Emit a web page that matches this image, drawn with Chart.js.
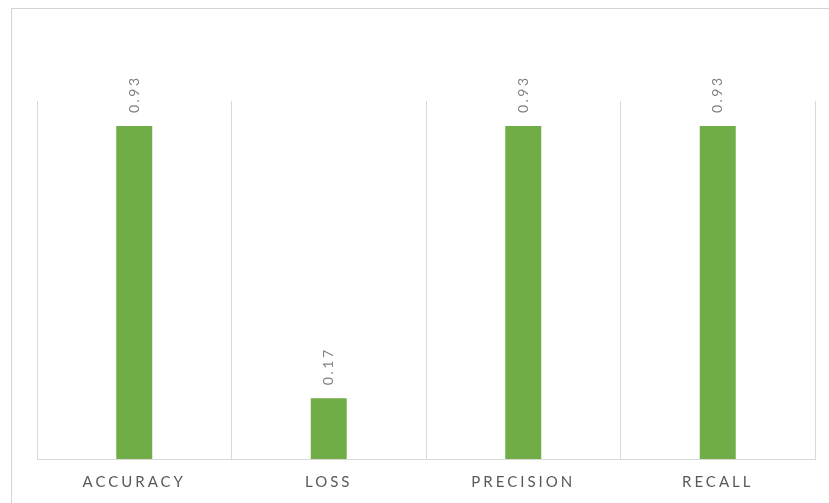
<!DOCTYPE html>
<html>
<head>
<meta charset="utf-8">
<script src="https://cdn.jsdelivr.net/npm/chart.js@4"></script>
<style>
  html, body { margin: 0; padding: 0; background: #fff; }
  #wrap { position: relative; width: 829px; height: 503px; overflow: hidden; }
  #frame { position: absolute; left: 11px; top: 8px; width: 840px; height: 520px;
           border-left: 1px solid #d4d4d4; border-top: 1px solid #d4d4d4; box-sizing: border-box; }
  canvas { position: absolute; left: 0; top: 0; }
</style>
</head>
<body>
<div id="wrap">
  <div id="frame"></div>
  <canvas id="c" width="829" height="503"></canvas>
</div>
<script>
const categories = ["ACCURACY", "LOSS", "PRECISION", "RECALL"];
const metricValues = [0.93, 0.17, 0.93, 0.93];
const valueLabels = ["0.93", "0.17", "0.93", "0.93"];

const spacingPlugin = {
  id: 'spacing',
  beforeDraw(chart) { chart.ctx.letterSpacing = '3px'; },
  afterDraw(chart) { chart.ctx.letterSpacing = '0px'; }
};

const valueLabelPlugin = {
  id: 'valueLabels',
  afterDatasetsDraw(chart) {
    const ctx = chart.ctx;
    const meta = chart.getDatasetMeta(0);
    meta.data.forEach((bar, i) => {
      ctx.save();
      ctx.letterSpacing = '2.5px';
      ctx.translate(bar.x, bar.y - 13);
      ctx.rotate(-Math.PI / 2);
      ctx.font = '14px Lato';
      ctx.fillStyle = '#808080';
      ctx.textAlign = 'left';
      ctx.textBaseline = 'middle';
      ctx.fillText(valueLabels[i], 0, 0);
      ctx.restore();
    });
  }
};

new Chart(document.getElementById('c'), {
  type: 'bar',
  data: {
    labels: categories,
    datasets: [{
      data: metricValues,
      backgroundColor: '#70ad47',
      borderWidth: 0,
      categoryPercentage: 1.0,
      barPercentage: 0.185
    }]
  },
  options: {
    responsive: false,
    animation: false,
    devicePixelRatio: 1,
    layout: { padding: { left: 37, right: 14, top: 101, bottom: 0 } },
    plugins: { legend: { display: false }, tooltip: { enabled: false } },
    scales: {
      x: {
        afterFit(scale) { scale.height = 44; },
        grid: { color: '#d9d9d9', lineWidth: 1, drawTicks: false, offset: true },
        border: { color: '#d9d9d9', width: 1 },
        ticks: { color: '#595959', font: { family: 'Lato', size: 15 }, padding: 14, maxRotation: 0 }
      },
      y: {
        display: false,
        min: 0,
        max: 1
      }
    }
  },
  plugins: [spacingPlugin, valueLabelPlugin]
});
</script>
</body>
</html>
